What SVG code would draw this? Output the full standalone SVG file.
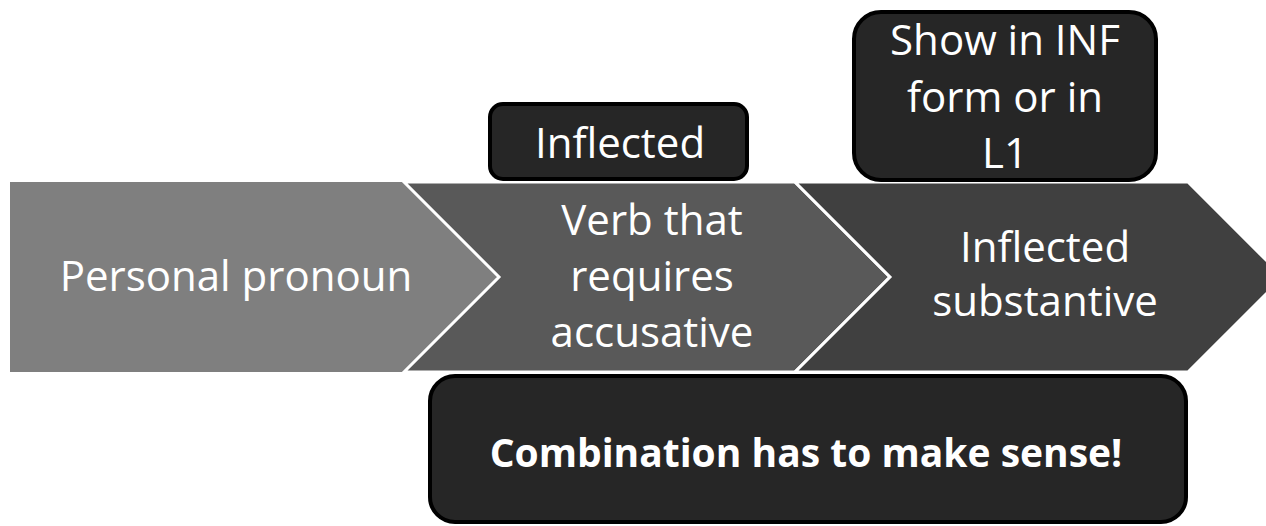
<svg xmlns="http://www.w3.org/2000/svg" width="1266" height="526" viewBox="0 0 1266 526">
<style>
  .chev { stroke: #ffffff; stroke-width: 3; stroke-linejoin: miter; }
  .box { fill: #262626; stroke: #000000; stroke-width: 4; }
  .t { font-family: "Open Sans", "Noto Sans", sans-serif; font-size: 42px; fill: #ffffff; text-anchor: middle; }
  .tb { font-family: "Open Sans", "Noto Sans", sans-serif; font-size: 39px; font-weight: bold; fill: #ffffff; text-anchor: middle; }
</style>
<rect x="0" y="0" width="1266" height="526" fill="#ffffff"/>
<g id="step1">
  <path d="M10,182 H404 L499,277 L404,372 H10 Z" fill="#7f7f7f"/>
  <text class="t" x="236" y="291">Personal pronoun</text>
</g>
<g id="step2">
  <path class="chev" d="M404,182 H795 L890,277 L795,372 H404 L499,277 Z" fill="#595959"/>
  <text class="t" x="652" y="235">Verb that</text>
  <text class="t" x="652" y="291">requires</text>
  <text class="t" x="652" y="347">accusative</text>
</g>
<g id="step3">
  <path class="chev" d="M795,182 H1188 L1283,277 L1188,372 H795 L890,277 Z" fill="#404040"/>
  <text class="t" x="1045" y="262">Inflected</text>
  <text class="t" x="1045" y="316">substantive</text>
</g>
<g id="note-inflected">
  <rect class="box" x="490" y="104" width="257" height="75" rx="13" ry="13"/>
  <text class="t" x="620" y="158">Inflected</text>
</g>
<g id="note-show">
  <rect class="box" x="854" y="12" width="302" height="168" rx="27" ry="27"/>
  <text class="t" x="1005" y="55">Show in INF</text>
  <text class="t" x="1005" y="112">form or in</text>
  <text class="t" x="1005" y="168">L1</text>
</g>
<g id="note-combination">
  <rect class="box" x="430" y="376" width="756" height="146" rx="25" ry="25"/>
  <text class="tb" x="806" y="467">Combination has to make sense!</text>
</g>
<g id="connectors"></g>
</svg>
